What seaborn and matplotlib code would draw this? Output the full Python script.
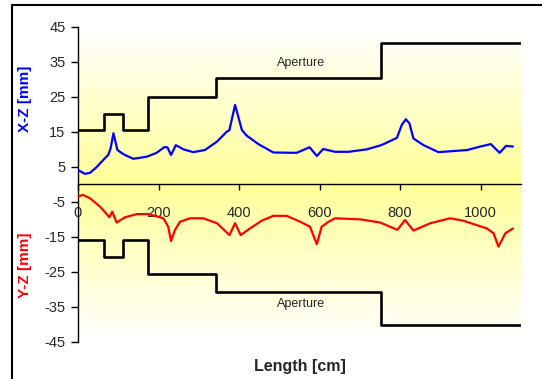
import numpy as np
import matplotlib
matplotlib.use("Agg")
import matplotlib.pyplot as plt
import seaborn as sns
from matplotlib.colors import LinearSegmentedColormap
from matplotlib.lines import Line2D

sns.set_style("white")
plt.rcParams['font.family'] = ['Liberation Sans', 'DejaVu Sans']

# ---- data ----
xz_x = [0, 17, 30, 46, 63, 75, 81, 88, 94, 98, 113, 137, 171, 195, 214, 222, 231, 243, 262, 286,
        315, 345, 369, 376, 390, 407, 419, 448, 485, 543, 575, 593, 609, 638, 672, 717, 750, 759,
        792, 804, 814, 823, 833, 858, 895, 966, 999, 1025, 1047, 1063, 1080]
xz_y = [4.0, 2.9, 3.2, 4.8, 6.9, 8.3, 10.2, 14.5, 11.6, 9.7, 8.5, 7.2, 7.8, 8.9, 10.5, 10.5, 8.3, 11.1, 9.9, 9.1,
        9.7, 12.1, 14.9, 15.4, 22.6, 15.4, 13.8, 11.4, 9.0, 8.9, 10.5, 8.0, 10.0, 9.2, 9.2, 9.9, 11.0, 11.4,
        13.2, 16.9, 18.5, 17.3, 13.0, 11.1, 9.1, 9.7, 10.7, 11.4, 8.9, 10.9, 10.7]

yz_x = [1, 12, 30, 55, 78, 85, 96, 117, 146, 175, 212, 224, 231, 241, 253, 278, 311, 345, 376, 390,
        404, 427, 456, 485, 518, 552, 576, 593, 605, 622, 638, 701, 750, 793, 812, 833, 875, 924,
        957, 1015, 1032, 1044, 1061, 1080]
yz_y = [-3.6, -3.1, -4.1, -6.5, -9.5, -7.9, -11.0, -9.5, -8.6, -8.6, -9.8, -12.2, -16.3, -13.1, -10.8, -9.8, -9.8, -11.2, -14.6, -11.2,
        -14.6, -12.7, -10.5, -9.1, -9.1, -10.8, -12.2, -17.2, -12.2, -10.8, -9.8, -10.1, -11.0, -13.1, -10.3, -13.3, -11.2, -9.8,
        -10.5, -12.7, -14.1, -17.9, -14.1, -12.7]

ap_x = [0, 65, 112, 175, 342, 752, 1098]
ap_upper = [15.4, 20.0, 15.4, 25.0, 30.4, 40.2, 40.2]
ap_lower = [-16.0, -20.8, -16.0, -25.6, -30.9, -40.3, -40.3]

x_ticks = [0, 200, 400, 600, 800, 1000]
y_ticks = [-45, -35, -25, -15, -5, 5, 15, 25, 35, 45]

# ---- figure ----
W, H = 542, 379
fig = plt.figure(figsize=(W / 100, H / 100), dpi=100)
ax = fig.add_axes([78 / W, 1 - 341.5 / H, (521 - 78) / W, 315 / H])

# gradient background: white at top/bottom, yellow at centre
cmap = LinearSegmentedColormap.from_list("yw", ["#FFFF99", "#FFFFFF"])
grad = np.abs(np.linspace(-1, 1, 300))[:, None]
ax.imshow(grad, extent=[0, 1100, -45, 45], aspect='auto', cmap=cmap, zorder=0,
          interpolation='bilinear', origin='lower')

sns.lineplot(x=ap_x, y=ap_upper, ax=ax, color='black', lw=1.9, drawstyle='steps-post',
             estimator=None, sort=False, zorder=3)
sns.lineplot(x=ap_x, y=ap_lower, ax=ax, color='black', lw=1.9, drawstyle='steps-post',
             estimator=None, sort=False, zorder=3)
sns.lineplot(x=xz_x, y=xz_y, ax=ax, color='#0000FF', lw=1.6, estimator=None, sort=False, zorder=4)
sns.lineplot(x=yz_x, y=yz_y, ax=ax, color='#FF0000', lw=1.6, estimator=None, sort=False, zorder=4)

ax.text(554, 34.5, "Aperture", fontsize=9, ha='center', va='center')
ax.text(554, -34.3, "Aperture", fontsize=9, ha='center', va='center')

ax.set_xlim(0, 1100)
ax.set_ylim(-45, 45)
ax.set_xticks(x_ticks)
ax.set_xticklabels([str(v) for v in x_ticks])
ax.set_yticks(y_ticks)
ax.set_yticklabels([str(v) for v in y_ticks])
ax.set_xlabel("")
ax.set_ylabel("")

for s in ['top', 'right']:
    ax.spines[s].set_visible(False)
ax.spines['bottom'].set_position(('data', 0))
ax.spines['bottom'].set_color('black')
ax.spines['bottom'].set_linewidth(1.0)
ax.spines['left'].set_color('black')
ax.spines['left'].set_linewidth(1.0)
ax.spines['bottom'].set_zorder(2)

ax.tick_params(axis='x', direction='out', length=4, width=1, color='black', pad=12,
               labelsize=10.5, bottom=True)
ax.tick_params(axis='y', direction='out', length=5, width=1, color='black', pad=4,
               labelsize=10.5, left=True)

fig.text(25 / W, 1 - 99 / H, "X-Z [mm]", rotation=90, color='#0000FF', fontweight='bold',
         fontsize=11, ha='center', va='center')
fig.text(25 / W, 1 - 265 / H, "Y-Z [mm]", rotation=90, color='#FF0000', fontweight='bold',
         fontsize=11, ha='center', va='center')
fig.text(299.5 / W, 1 - 366 / H, "Length [cm]", fontweight='bold', fontsize=11.5,
         ha='center', va='center')

# outer chart frame (cut at right/bottom)
fy = 1 - 4.7 / H
fx = 11.5 / W
fig.add_artist(Line2D([fx, 1], [fy, fy], color='black', lw=1.5, transform=fig.transFigure))
fig.add_artist(Line2D([fx, fx], [0, fy], color='black', lw=1.5, transform=fig.transFigure))

fig.savefig("out.png", dpi=100)
